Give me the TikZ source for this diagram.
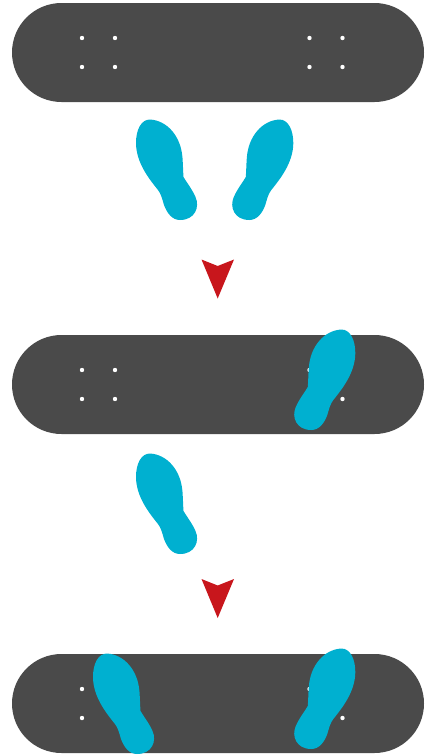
\documentclass[tikz,border=0pt]{standalone}
\usepackage{xcolor}
\usetikzlibrary{positioning}
\definecolor{deckgray}{RGB}{74, 74, 74}
\definecolor{footblue}{RGB}{0, 176, 208}
\definecolor{arrowred}{RGB}{200, 22, 28}
\newcommand{\footpath}{(150,119.5)
  .. controls (167,120.5) and (181,136) .. (182.5,158)
  .. controls (183,165) and (183,170) .. (183.5,177)
  .. controls (187,183) and (192,189) .. (195.5,197)
  .. controls (200,207) and (195,220) .. (180,220)
  .. controls (172,220) and (167,213) .. (164,205)
  .. controls (162,198) and (161,194) .. (158,190)
  .. controls (150,180) and (136,163) .. (136,143)
  .. controls (136,130) and (141,119.5) .. (150,119.5) -- cycle}

\begin{document}
\begin{tikzpicture}[
  x=1pt, y=-1pt,
  deck/.style={fill=deckgray, rounded corners=49.5pt, minimum width=412pt,
    minimum height=99pt, inner sep=0pt, outer sep=0pt},
  hole/.style={circle, fill=white, minimum size=4.4pt, inner sep=0pt},
  foot/.style={fill=footblue},
  rightfoot/.style={foot, xshift=429.3pt, xscale=-1},
  arrowhead/.style={fill=arrowred}
]
\useasboundingbox (0,0) rectangle (428,755);

% Decks
\node[deck] (deck_a) at (218,52.5) {};
\node[deck] (deck_b) at (218,384.5) {};
\node[deck] (deck_c) at (218,703.5) {};

% Truck holes
\foreach \dx in {-136,-103,91.5,124.5}
  \foreach \dy in {-14.5,14.5} {
    \node[hole] at ([xshift=\dx pt, yshift=\dy pt]deck_a.center) {};
    \node[hole] at ([xshift=\dx pt, yshift=\dy pt]deck_b.center) {};
    \node[hole] at ([xshift=\dx pt, yshift=\dy pt]deck_c.center) {};
  }

% Feet, step 1
\fill[foot] \footpath;
\fill[rightfoot] \footpath;

% Feet, step 2
\fill[rightfoot, xshift=-62pt, yshift=-210pt] \footpath;
\fill[foot, yshift=-334pt] \footpath;

% Feet, step 3
\fill[rightfoot, xshift=-62pt, yshift=-529pt] \footpath;
\fill[foot, xshift=-43pt, yshift=-534pt] \footpath;

% Arrows
\fill[arrowhead] (201.5,259.5) -- (217.7,266) -- (234,259.5) -- (217.7,298.5) -- cycle;
\fill[arrowhead] (201.5,579) -- (217.7,585.5) -- (234,579) -- (217.7,618) -- cycle;

\end{tikzpicture}
\end{document}
